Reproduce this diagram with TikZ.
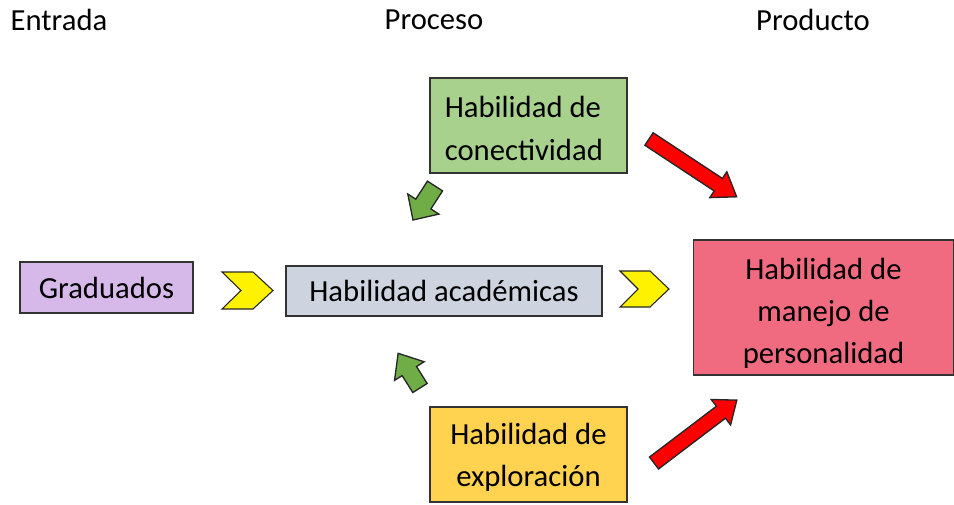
\documentclass[tikz,border=0pt]{standalone}
\usepackage{fontspec}
\setmainfont{Carlito}

\definecolor{gradpurple}{RGB}{214,184,233}
\definecolor{acadgrey}{RGB}{205,212,224}
\definecolor{conecgreen}{RGB}{169,209,142}
\definecolor{explogold}{RGB}{255,210,80}
\definecolor{perspink}{RGB}{241,107,128}
\definecolor{arrowgreen}{RGB}{112,173,71}

\begin{document}
\begin{tikzpicture}[x=0.75pt,y=-0.75pt,
  box/.style={draw=black!80, line width=1pt, inner sep=0pt, align=center, font=\fontsize{23}{31.7}\selectfont},
  heading/.style={font=\fontsize{23}{31.7}\selectfont},
  chevron/.style={draw=black!85, fill=yellow, line width=0.8pt},
  redarrow/.style={draw=black!85, fill=red, line width=1pt},
  greenarrow/.style={draw=black!85, fill=arrowgreen, line width=1pt}]

\useasboundingbox (0,0) rectangle (954,504);

% headings
\node [heading] (entrada) at (59,20) {Entrada};
\node [heading] (proceso) at (434,20) {Proceso};
\node [heading] (producto) at (813,20) {Producto};

% boxes
\node [box, fill=gradpurple, minimum width=129.75pt, minimum height=38.25pt] (grad) at (106.5,287.5) {Graduados};
\node [box, fill=acadgrey, minimum width=237pt, minimum height=37.5pt] (acad) at (444,291) {Habilidad académicas};
\node [box, fill=conecgreen, align=left, minimum width=147.75pt, minimum height=71.25pt] (conec) at (528.5,125.5) {\hspace*{-7pt}\rule{0pt}{20.5pt}Habilidad de\\\hspace*{-7pt}conectividad};
\node [box, fill=explogold, minimum width=147.75pt, minimum height=71.25pt] (explo) at (528.5,454.5) {\rule{0pt}{20.5pt}Habilidad de\\exploración};
\node [box, fill=perspink, minimum width=195pt, minimum height=101.25pt] (pers) at (823.5,307.5) {\rule{0pt}{25pt}Habilidad de\\manejo de\\personalidad};

% chevrons
\filldraw [chevron] (222,272) -- (253,272) -- (273,290.5) -- (253,309) -- (222,309) -- (241,290.5) -- cycle;
\filldraw [chevron] (620,271) -- (650,271) -- (669,289) -- (650,307) -- (620,307) -- (638,289) -- cycle;

% green arrows
\filldraw [greenarrow, shift={(435,186)}, rotate=-122.9] (0,-9) -- (21.5,-9) -- (21.5,-18.5) -- (40.5,0) -- (21.5,18.5) -- (21.5,9) -- (0,9) -- cycle;
\filldraw [greenarrow, shift={(420,388)}, rotate=122.2] (0,-8.5) -- (20,-8.5) -- (20,-17.5) -- (41,0) -- (20,17.5) -- (20,8.5) -- (0,8.5) -- cycle;

% red arrows
\filldraw [redarrow, shift={(649,139)}, rotate=-33.4] (0,-7.5) -- (83,-7.5) -- (83,-15.5) -- (105,0) -- (83,15.5) -- (83,7.5) -- (0,7.5) -- cycle;
\filldraw [redarrow, shift={(654,463)}, rotate=37.2] (0,-7.5) -- (84,-7.5) -- (84,-16) -- (104,0) -- (84,16) -- (84,7.5) -- (0,7.5) -- cycle;

\end{tikzpicture}
\end{document}
